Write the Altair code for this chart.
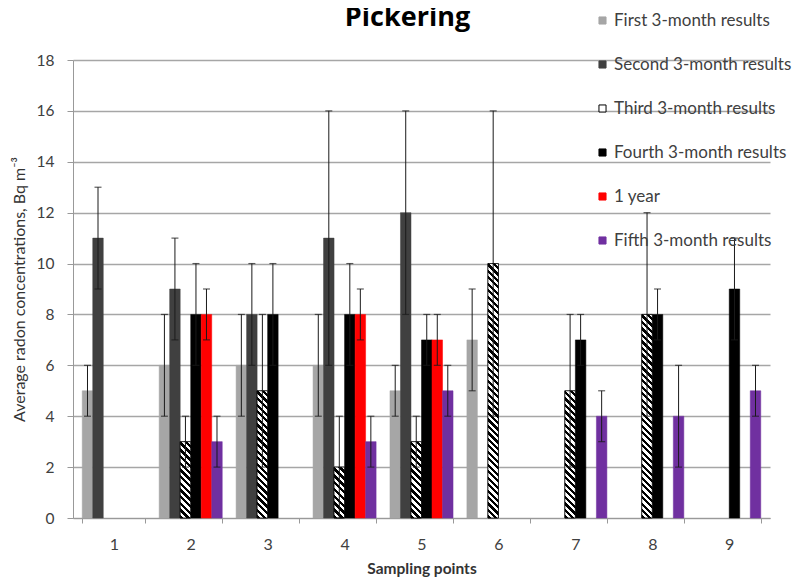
import altair as alt
import pandas as pd

points = [1, 2, 3, 4, 5, 6, 7, 8, 9]
series = ["First 3-month results", "Second 3-month results", "Third 3-month results",
          "Fourth 3-month results", "1 year", "Fifth 3-month results"]

first = [5, 6, 6, 6, 5, 7, None, None, None]
first_err = [1, 2, 2, 2, 1, 2, None, None, None]
second = [11, 9, 8, 11, 12, None, None, None, None]
second_err = [2, 2, 2, 5, 4, None, None, None, None]
third = [None, 3, 5, 2, 3, 10, 5, 8, None]
third_err = [None, 1, 3, 2, 1, 6, 3, 4, None]
fourth = [None, 8, 8, 8, 7, None, 7, 8, 9]
fourth_err = [None, 2, 2, 2, 1, None, 1, 1, 2]
year = [None, 8, None, 8, 7, None, None, None, None]
year_err = [None, 1, None, 1, 1, None, None, None, None]
fifth = [None, 3, None, 3, 5, None, 4, 4, 5]
fifth_err = [None, 1, None, 1, 1, None, 1, 2, 1]

fill_colors = ["#a6a6a6", "#404040", "#ffffff", "#000000", "#ff0000", "#7030a0"]
stroke_colors = ["#a6a6a6", "#404040", "#000000", "#000000", "#ff0000", "#7030a0"]

vals = [first, second, third, fourth, year, fifth]
errs = [first_err, second_err, third_err, fourth_err, year_err, fifth_err]
rows = []
for s, v, e in zip(series, vals, errs):
    for p, vv, ee in zip(points, v, e):
        if vv is None:
            continue
        rows.append({"point": str(p), "series": s, "value": vv,
                     "low": vv - ee, "high": vv + ee})
df = pd.DataFrame(rows)

W, H = 697, 458
YMAX = 18
FONT = "Lato"
P_IN, P_OUT = 0.18, 0.12
x_scale = alt.Scale(paddingInner=P_IN, paddingOuter=P_OUT)
xo_scale = alt.Scale(domain=series, paddingInner=0, paddingOuter=0)
BAR_W = W / (9 - P_IN + 2 * P_OUT) * (1 - P_IN) / 6
x_sort = [str(p) for p in points]

x_enc = alt.X("point:N", scale=x_scale, sort=x_sort,
              axis=alt.Axis(title="Sampling points", labelAngle=0, tickBand="extent",
                            domainColor="#999999", tickColor="#999999", tickSize=5,
                            labelFontSize=16, labelColor="#404040", labelPadding=13,
                            titleFontSize=15.5, titleFontWeight="bold", titleColor="#333333",
                            titlePadding=9, grid=False, labelFont=FONT, titleFont=FONT))
xo_enc = alt.XOffset("series:N", scale=xo_scale, sort=series)
y_scale = alt.Scale(domain=[0, YMAX], nice=False)

base = alt.Chart(df)

bars = base.mark_bar(strokeWidth=0.5).encode(
    x=x_enc,
    xOffset=xo_enc,
    y=alt.Y("value:Q", scale=y_scale,
            axis=alt.Axis(title="Average radon concentrations, Bq m\u207b\u00b3",
                          values=list(range(0, 19, 2)), gridColor="#a6a6a6", gridWidth=1.5,
                          domainColor="#999999", tickColor="#999999", tickSize=6,
                          labelFontSize=15.5, labelColor="#404040", labelPadding=13,
                          titleFontSize=16, titleFontWeight="normal", titleColor="#333333",
                          titlePadding=9, labelFont=FONT, titleFont=FONT)),
    fill=alt.Fill("series:N", scale=alt.Scale(domain=series, range=fill_colors),
                  sort=series,
                  legend=alt.Legend(title=None, orient="none", legendX=521, legendY=-48,
                                    symbolType="square", symbolSize=50, rowPadding=26,
                                    labelFontSize=17, labelColor="#404040", labelFont=FONT,
                                    labelOffset=3, labelLimit=400, symbolStrokeWidth=1)),
    stroke=alt.Stroke("series:N", scale=alt.Scale(domain=series, range=stroke_colors),
                      sort=series, legend=None),
)

layers = [bars]

# hatch overlays for the third series
PERIOD = 6.5
for p, v in zip(points, third):
    if v is None:
        continue
    h = v * H / YMAX
    w = BAR_W
    r = h / w
    A = (1 + r) / (1 + r * r)
    n = max(1, int(round((h + w) / PERIOD)))
    stops = []
    for i in range(n):
        a = i / n
        b = (i + 0.5) / n
        c = (i + 1) / n
        stops += [{"offset": a, "color": "#000000"}, {"offset": b, "color": "#000000"},
                  {"offset": b, "color": "#ffffff"}, {"offset": c, "color": "#ffffff"}]
    grad = {"gradient": "linear", "x1": 0, "y1": 1, "x2": A, "y2": 1 - A * r, "stops": stops}
    hatch = base.transform_filter(
        (alt.datum.series == series[2]) & (alt.datum.point == str(p))
    ).mark_bar(fill=grad, stroke="#000000", strokeWidth=0.8).encode(
        x=alt.X("point:N", scale=x_scale, sort=x_sort),
        xOffset=xo_enc,
        y=alt.Y("value:Q", scale=y_scale),
    )
    layers.append(hatch)

err_rule = base.mark_rule(color="#1a1a1a", strokeWidth=1).encode(
    x=alt.X("point:N", scale=x_scale, sort=x_sort),
    xOffset=xo_enc,
    y=alt.Y("low:Q", scale=y_scale),
    y2="high:Q",
)
cap_hi = base.mark_tick(color="#1a1a1a", orient="horizontal", size=7, thickness=1.2).encode(
    x=alt.X("point:N", scale=x_scale, sort=x_sort),
    xOffset=xo_enc,
    y=alt.Y("high:Q", scale=y_scale),
)
cap_lo = base.mark_tick(color="#1a1a1a", orient="horizontal", size=7, thickness=1.2).encode(
    x=alt.X("point:N", scale=x_scale, sort=x_sort),
    xOffset=xo_enc,
    y=alt.Y("low:Q", scale=y_scale),
)
layers += [err_rule, cap_hi, cap_lo]

chart = alt.layer(*layers).properties(
    width=W, height=H,
    title=alt.TitleParams("Pickering", fontSize=27, font="Open Sans", fontWeight="bold",
                          color="#000000", anchor="middle", dx=-14, offset=-20),
    autosize=alt.AutoSizeParams(type="none"),
    padding={"left": 65, "top": 52, "right": 24, "bottom": 61},
    background="white",
).configure_view(stroke=None)

chart.save("out.html", embed_options={"renderer": "svg", "actions": False})
